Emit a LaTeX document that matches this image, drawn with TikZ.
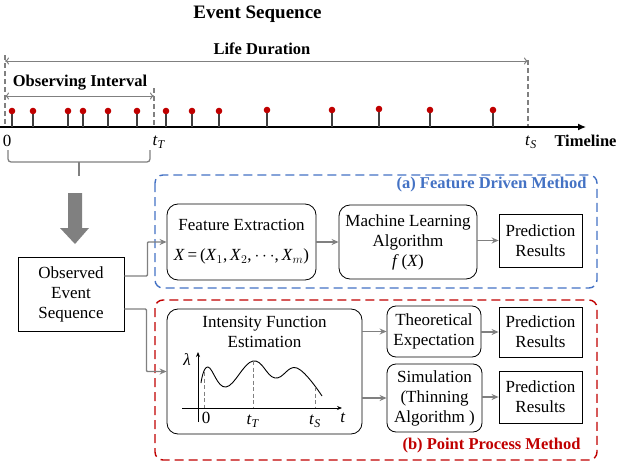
\documentclass[tikz,border=0pt]{standalone}
\usepackage{fontspec}
\setmainfont{Liberation Serif}
\usetikzlibrary{arrows.meta,positioning}
\definecolor{evred}{RGB}{192,0,0}
\definecolor{fdblue}{RGB}{68,114,196}
\definecolor{lngray}{RGB}{128,128,128}
\tikzset{
    box/.style={draw, line width=0.8pt, align=center, inner sep=0pt},
    rbox/.style={box, rounded corners=11pt},
    flow/.style={lngray, line width=1.3pt, -{Stealth[length=7pt,width=6pt]}},
    guide/.style={lngray, line width=1.2pt, dash pattern=on 5pt off 3pt},
    span/.style={lngray, line width=1pt, {To[length=4pt,width=7pt]}-{To[length=4pt,width=7pt]}},
    head/.style={font=\fontsize{16.5}{20}\bfseries\selectfont},
}
\newcommand{\ti}[1]{\textit{t}\textsubscript{\textit{#1}}}
\begin{document}
\begin{tikzpicture}[x=1pt, y=-1pt, font=\fontsize{17}{20}\selectfont]
    \useasboundingbox (0,0) rectangle (625,471);

    % timeline
    \node[font=\fontsize{19}{22}\bfseries\selectfont] (title) at (257.5,14) {Event Sequence};
    \node[head] (life) at (262,49) {Life Duration};
    \node[head] (obsint) at (80,83) {Observing Interval};
    \draw[guide] (5,55) -- (5,127);
    \draw[guide] (154,88) -- (154,127);
    \draw[guide] (528,60) -- (528,127);
    \draw[span] (5,61) -- (528,61);
    \draw[span] (5,96) -- (154,96);
    \draw[line width=1.2pt, -{Latex[length=8pt,width=7pt]}] (0,127) -- (586,127);
    \node[head, anchor=west] (tline) at (551,141) {Timeline};
    \node (zero) at (7,141) {0};
    \node (tT) at (159,142) {\ti{T}};
    \node (tS) at (531,142) {\ti{S}};

    % events
    \draw[line width=1.2pt, black!75] (12,111) -- (12,127);   \fill[evred] (12,111) circle (3.3pt);
    \draw[line width=1.2pt, black!75] (33,111) -- (33,127);   \fill[evred] (33,111) circle (3.3pt);
    \draw[line width=1.2pt, black!75] (68,111) -- (68,127);   \fill[evred] (68,111) circle (3.3pt);
    \draw[line width=1.2pt, black!75] (83,111) -- (83,127);   \fill[evred] (83,111) circle (3.3pt);
    \draw[line width=1.2pt, black!75] (108,111) -- (108,127); \fill[evred] (108,111) circle (3.3pt);
    \draw[line width=1.2pt, black!75] (137,111) -- (137,127); \fill[evred] (137,111) circle (3.3pt);
    \draw[line width=1.2pt, black!75] (166,111) -- (166,127); \fill[evred] (166,111) circle (3.3pt);
    \draw[line width=1.2pt, black!75] (192,111) -- (192,127); \fill[evred] (192,111) circle (3.3pt);
    \draw[line width=1.2pt, black!75] (219,111) -- (219,127); \fill[evred] (219,111) circle (3.3pt);
    \draw[line width=1.2pt, black!75] (267,110) -- (267,127); \fill[evred] (267,110) circle (3.3pt);
    \draw[line width=1.2pt, black!75] (332,110) -- (332,127); \fill[evred] (332,110) circle (3.3pt);
    \draw[line width=1.2pt, black!75] (379,109) -- (379,127); \fill[evred] (379,109) circle (3.3pt);
    \draw[line width=1.2pt, black!75] (430,110) -- (430,127); \fill[evred] (430,110) circle (3.3pt);
    \draw[line width=1.2pt, black!75] (493,110) -- (493,127); \fill[evred] (493,110) circle (3.3pt);

    % brace and big arrow
    \draw[lngray, line width=1.3pt, rounded corners=3pt] (8,150) |- (150,162) -- (150,150);
    \draw[lngray, line width=1.3pt] (79,162) -- (79,176);
    \fill[lngray] (68,193) -- (82,193) -- (82,228) -- (89,228) -- (75,244) -- (60,228) -- (68,228) -- cycle;

    % regions
    \draw[fdblue, line width=1.4pt, dash pattern=on 9pt off 5pt, rounded corners=8pt] (155,175) rectangle (597,288);
    \node[head, text=fdblue, anchor=east] (lblA) at (590,185) {(a) Feature Driven Method};
    \draw[evred, line width=1.4pt, dash pattern=on 9pt off 5pt, rounded corners=8pt] (155,300) rectangle (597,460);
    \node[head, text=evred, anchor=east] (lblB) at (584,446) {(b) Point Process Method};

    % boxes
    \node[box, minimum width=106pt, minimum height=74pt] (obs) at (71,294) {Observed\\Event\\Sequence};
    \node[rbox, minimum width=149pt, minimum height=76pt] (feat) at (241.5,242)
        {Feature Extraction\\[10pt]\textit{X}\,=\,(\textit{X}$_1$,\,\textit{X}$_2$,\,$\cdots$,\,\textit{X}$_m$)};
    \node[rbox, minimum width=138pt, minimum height=74pt] (mla) at (408,242)
        {Machine Learning\\Algorithm\\\textit{f}\,(\textit{X})};
    \node[box, minimum width=83pt, minimum height=53pt] (predA) at (540.5,240.5) {Prediction\\Results};
    \node[rbox, minimum width=195pt, minimum height=125pt] (intens) at (264.5,371.5) {};
    \node (intenslbl) at (264.5,332) [align=center] {Intensity Function\\Estimation};
    \node[rbox, rounded corners=9pt, minimum width=94pt, minimum height=51pt] (theo) at (434,331.5) {Theoretical\\Expectation};
    \node[rbox, rounded corners=9pt, minimum width=95pt, minimum height=68pt] (simu) at (434.5,398) {Simulation\\(Thinning\\Algorithm )};
    \node[box, minimum width=83pt, minimum height=50pt] (predB) at (540.5,332) {Prediction\\Results};
    \node[box, minimum width=83pt, minimum height=52pt] (predC) at (540.5,397) {Prediction\\Results};

    % intensity plot
    \draw[line width=0.8pt, -{Stealth[length=5pt,width=4pt]}] (182,408) -- (342,408);
    \draw[line width=0.8pt, -{Stealth[length=5pt,width=4pt]}] (198,422) -- (198,352);
    \draw[line width=0.9pt] plot[smooth, tension=0.7] coordinates {(201,383) (208,367) (226,387) (253,361) (275,378) (297,368) (322,396)};
    \draw[guide, line width=1pt, dash pattern=on 4pt off 2.5pt] (204,372) -- (204,408);
    \draw[guide, line width=1pt, dash pattern=on 4pt off 2.5pt] (253,361) -- (253,408);
    \draw[guide, line width=1pt, dash pattern=on 4pt off 2.5pt] (315,387) -- (315,408);
    \node (lam) at (187,360) {\textit{λ}};
    \node (taxis) at (343,418) {\textit{t}};
    \node (pzero) at (206,418) {0};
    \node (ptT) at (253,421) {\ti{T}};
    \node (ptS) at (315,421) {\ti{S}};

    % connectors
    \draw[flow, rounded corners=1pt] ([yshift=18pt]obs.east) -- ++(23,0) |- (feat.west);
    \draw[flow, rounded corners=1pt] ([yshift=-15pt]obs.east) -- ++(22,0) |- (intens.west);
    \draw[flow] (feat.east) -- (mla.west);
    \draw[flow] (mla.east |- predA.west) -- (predA.west);
    \draw[flow] (intens.east |- theo.west) -- (theo.west);
    \draw[flow] (intens.east |- simu.west) -- (simu.west);
    \draw[flow] (theo.east |- predB.west) -- (predB.west);
    \draw[flow] (simu.east |- predC.west) -- (predC.west);
\end{tikzpicture}
\end{document}
